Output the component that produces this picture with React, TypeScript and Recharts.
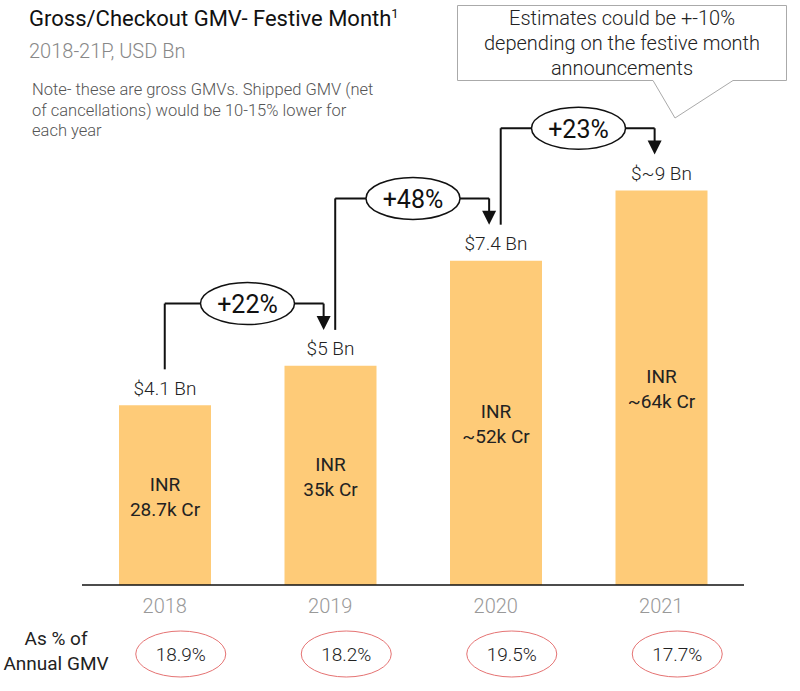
import React from "react";
import { BarChart, Bar, XAxis, YAxis, LabelList, ReferenceLine, ReferenceDot } from "recharts";

const years = ["2018", "2019", "2020", "2021"];
const gmvUsdBn = [4.1, 5, 7.4, 9];
const usdLabels = ["$4.1 Bn", "$5 Bn", "$7.4 Bn", "$~9 Bn"];
const inrLabels = ["28.7k Cr", "35k Cr", "~52k Cr", "~64k Cr"];
const shareOfAnnual = ["18.9%", "18.2%", "19.5%", "17.7%"];
const growthLabels = ["+22%", "+48%", "+23%"];

const data = years.map((year, i) => ({
  idx: i,
  year,
  gmv: gmvUsdBn[i],
  usd: usdLabels[i],
  inr: inrLabels[i],
}));

// connector geometry, in axis units
const START_GAP = 0.82;
const LEVEL_GAP = 1.42;
const TIP_GAP = 0.82;
const ARROW_DX = -0.04;
const LINE_DX = 0.03;

const BAR_COLOR = "#FECB78";
const FONT = "Roboto, 'Noto Sans', sans-serif";
const LIGHT = 300;

const connectors = growthLabels.map((label, i) => {
  const sx = i + (i === 0 ? 0 : LINE_DX);
  const ax = i + 1 + ARROW_DX;
  const level = gmvUsdBn[i + 1] + LEVEL_GAP;
  return {
    label,
    sx,
    ax,
    mid: i + 0.5,
    start: gmvUsdBn[i] + START_GAP,
    level,
    tip: gmvUsdBn[i + 1] + TIP_GAP,
  };
});

const YearTick = (props: any) => {
  const { x, y, payload } = props;
  const i = payload.value;
  return (
    <g>
      <text x={x} y={y + 21} textAnchor="middle" dominantBaseline="central" fill="#999" fontSize={20} fontWeight={LIGHT}>
        {years[i]}
      </text>
      <ellipse cx={x + 16} cy={y + 69} rx={45} ry={23} fill="none" stroke="#E57373" strokeWidth={1} />
      <text x={x + 16} y={y + 69} textAnchor="middle" dominantBaseline="central" fill="#222" fontSize={19} fontWeight={LIGHT}>
        {shareOfAnnual[i]}
      </text>
    </g>
  );
};

const UsdLabel = (props: any) => {
  const { x, y, width, value } = props;
  return (
    <text x={x + width / 2} y={y - 17} textAnchor="middle" dominantBaseline="central" fill="#222" fontSize={19} fontWeight={LIGHT}>
      {value}
    </text>
  );
};

const InrLabel = (props: any) => {
  const { x, y, width, height, value } = props;
  const cx = x + width / 2;
  const cy = y + height / 2;
  return (
    <text textAnchor="middle" fill="#222" fontSize={19}>
      <tspan x={cx} y={cy - 11} dominantBaseline="central">INR</tspan>
      <tspan x={cx} y={cy + 14} dominantBaseline="central">{value}</tspan>
    </text>
  );
};

const GrowthBubble = (label: string) => (props: any) => {
  const { cx, cy } = props;
  return (
    <g>
      <ellipse cx={cx} cy={cy} rx={47} ry={21} fill="#fff" stroke="#111" strokeWidth={1.5} />
      <text x={cx} y={cy + 1} textAnchor="middle" dominantBaseline="central" fill="#111" fontSize={25}>
        {label}
      </text>
    </g>
  );
};

const ArrowHead = (props: any) => {
  const { cx, cy } = props;
  return <polygon points={`${cx - 7},${cy - 14} ${cx + 7},${cy - 14} ${cx},${cy}`} fill="#111" />;
};

export default function App() {
  return (
    <div style={{ position: "absolute", left: 0, top: 0, width: 800, height: 691, fontFamily: FONT, background: "#fff" }}>
      <div style={{ position: "absolute", left: 29, top: 6, fontSize: 22, color: "#111", whiteSpace: "nowrap" }}>
        Gross/Checkout GMV- Festive Month<sup style={{ fontSize: 13 }}>1</sup>
      </div>
      <div style={{ position: "absolute", left: 29, top: 39, fontSize: 20, fontWeight: LIGHT, color: "#888" }}>2018-21P, USD Bn</div>
      <div style={{ position: "absolute", left: 32, top: 80, width: 352, fontSize: 16.5, fontWeight: LIGHT, lineHeight: "20.5px", color: "#555" }}>
        Note- these are gross GMVs. Shipped GMV (net of cancellations) would be 10-15% lower for each year
      </div>

      <BarChart width={800} height={691} data={data} margin={{ top: 59, right: 56, bottom: 0, left: 82 }}>
        <XAxis
          type="number"
          dataKey="idx"
          domain={[-0.5, 3.5]}
          ticks={[0, 1, 2, 3]}
          height={106}
          tickSize={0}
          tickMargin={0}
          tickLine={false}
          axisLine={{ stroke: "#111", strokeWidth: 1.5 }}
          tick={<YearTick />}
          interval={0}
        />
        <YAxis hide domain={[0, 12]} />
        <Bar dataKey="gmv" fill={BAR_COLOR} barSize={92} isAnimationActive={false}>
          <LabelList dataKey="usd" content={<UsdLabel />} />
          <LabelList dataKey="inr" content={<InrLabel />} />
        </Bar>
        {connectors.map((c, i) => (
          <ReferenceLine
            key={`v${i}`}
            segment={[{ x: c.sx, y: c.start }, { x: c.sx, y: c.level }]}
            stroke="#111"
            strokeWidth={2}
          />
        ))}
        {connectors.map((c, i) => (
          <ReferenceLine
            key={`h${i}`}
            segment={[{ x: c.sx, y: c.level }, { x: c.ax, y: c.level }]}
            stroke="#111"
            strokeWidth={2}
          />
        ))}
        {connectors.map((c, i) => (
          <ReferenceLine
            key={`d${i}`}
            segment={[{ x: c.ax, y: c.level }, { x: c.ax, y: c.tip + 0.2 }]}
            stroke="#111"
            strokeWidth={2}
          />
        ))}
        {connectors.map((c, i) => (
          <ReferenceDot key={`a${i}`} x={c.ax} y={c.tip} shape={ArrowHead} />
        ))}
        {connectors.map((c, i) => (
          <ReferenceDot key={`b${i}`} x={c.mid} y={c.level} shape={GrowthBubble(c.label)} />
        ))}
      </BarChart>

      <svg style={{ position: "absolute", left: 0, top: 0 }} width={800} height={130}>
        <path
          d="M457.5,5.5 H786.5 V80.5 H733 L675,118 L653,80.5 H457.5 Z"
          fill="#fff"
          stroke="#aaa"
          strokeWidth={1}
        />
        <text textAnchor="middle" fill="#222" fontSize={20} fontWeight={LIGHT} fontFamily={FONT}>
          <tspan x={622} y={18} dominantBaseline="central">Estimates could be +-10%</tspan>
          <tspan x={622} y={43} dominantBaseline="central">depending on the festive month</tspan>
          <tspan x={622} y={68} dominantBaseline="central">announcements</tspan>
        </text>
      </svg>

      <div style={{ position: "absolute", left: 0, top: 626, width: 112, textAlign: "center", fontSize: 19, lineHeight: "25px", color: "#222" }}>
        As % of
        <br />
        Annual GMV
      </div>
    </div>
  );
}
